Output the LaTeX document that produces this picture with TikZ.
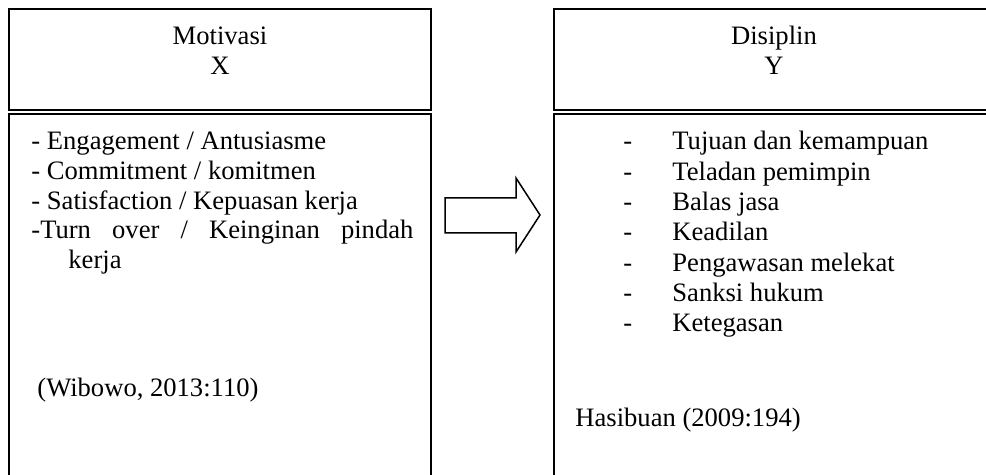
\documentclass[tikz,border=0pt]{standalone}
\usepackage{fontspec}
\setmainfont{Liberation Serif}
\begin{document}
\begin{tikzpicture}[x=0.5pt,y=-0.5pt,
  boxline/.style={draw=black,line width=1.2pt},
  arrowline/.style={draw=black,line width=0.75pt,line join=miter},
  txt/.style={inner sep=0pt,anchor=base west,font=\fontsize{13.3}{15}\selectfont},
  ctxt/.style={inner sep=0pt,anchor=base,font=\fontsize{13.3}{15}\selectfont}]
\useasboundingbox (0,0) rectangle (986,475);
\clip (0,0) rectangle (986,475);
% left boxes
\draw[boxline] (9,9) rectangle (431,110);
\draw[boxline] (9,114) rectangle (431,490);
% right boxes
\draw[boxline] (554,9) rectangle (1000,110);
\draw[boxline] (554,114) rectangle (1000,490);
% block arrow
\draw[arrowline] (445,198) -- (516,198) -- (516,178) -- (540,215) -- (516,252) -- (516,233) -- (445,233) -- cycle;
% headers
\node[ctxt] (motiv) at (220,45) {Motivasi};
\node[ctxt] (x) at (220,75) {X};
\node[ctxt] (disip) at (774,45) {Disiplin};
\node[ctxt] (y) at (774,75) {Y};
% left list
\node[txt] (l1) at (31,150) {- Engagement / Antusiasme};
\node[txt] (l2) at (31,180) {- Commitment / komitmen};
\node[txt] (l3) at (31,210) {- Satisfaction / Kepuasan kerja};
\node[txt] (l4) at (31,239) {\makebox[191pt][s]{-Turn over / Keinginan pindah}};
\node[txt] (l5) at (68,269) {kerja};
\node[txt] (wib) at (37,397) {(Wibowo, 2013:110)};
% right list
\foreach \i/\t in {0/Tujuan dan kemampuan,1/Teladan pemimpin,2/Balas jasa,3/Keadilan,4/Pengawasan melekat,5/Sanksi hukum,6/Ketegasan}{
  \node[txt] (d\i) at (623,150+30.3*\i) {-};
  \node[txt] (r\i) at (672,150+30.3*\i) {\t};
}
\node[txt] (has) at (575,427) {Hasibuan (2009:194)};
\end{tikzpicture}
\end{document}
